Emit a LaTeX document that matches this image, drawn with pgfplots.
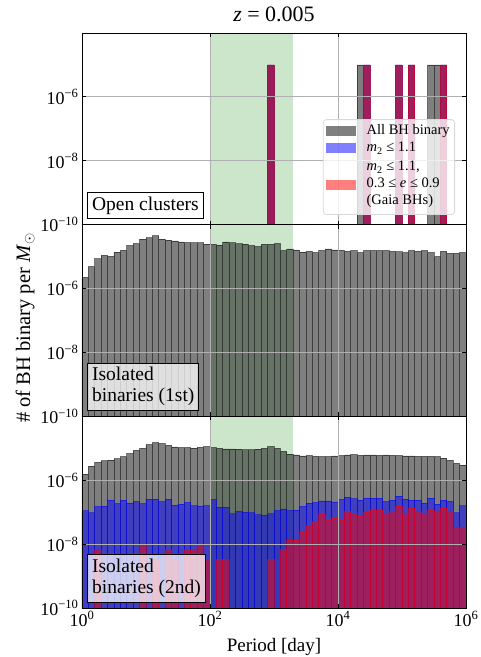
\documentclass[border=0pt]{standalone}
\usepackage{fontspec}
\setmainfont{Liberation Serif}
\usepackage{pgfplots}
\usepackage{pgfplotstable}
\pgfplotsset{compat=1.18}

\pgfplotstableread{
x g b r
1 1e-20 1e-20 1e-20
1.2589 1e-20 1e-20 1e-20
1.5849 1e-20 1e-20 1e-20
1.9953 1e-20 1e-20 1e-20
2.5119 1e-20 1e-20 1e-20
3.1623 1e-20 1e-20 1e-20
3.9811 1e-20 1e-20 1e-20
5.0119 1e-20 1e-20 1e-20
6.3096 1e-20 1e-20 1e-20
7.9433 1e-20 1e-20 1e-20
10 1e-20 1e-20 1e-20
12.589 1e-20 1e-20 1e-20
15.849 1e-20 1e-20 1e-20
19.953 1e-20 1e-20 1e-20
25.119 1e-20 1e-20 1e-20
31.623 1e-20 1e-20 1e-20
39.811 1e-20 1e-20 1e-20
50.119 1e-20 1e-20 1e-20
63.096 1e-20 1e-20 1e-20
79.433 1e-20 1e-20 1e-20
100 1e-20 1e-20 1e-20
125.89 1e-20 1e-20 1e-20
158.49 1e-20 1e-20 1e-20
199.53 1e-20 1e-20 1e-20
251.19 1e-20 1e-20 1e-20
316.23 1e-20 1e-20 1e-20
398.11 1e-20 1e-20 1e-20
501.19 1e-20 1e-20 1e-20
630.96 1e-20 1e-20 1e-20
794.33 1e-5 1e-5 1e-5
1000 1e-20 1e-20 1e-20
1258.9 1e-20 1e-20 1e-20
1584.9 1e-20 1e-20 1e-20
1995.3 1e-20 1e-20 1e-20
2511.9 1e-20 1e-20 1e-20
3162.3 1e-20 1e-20 1e-20
3981.1 1e-20 1e-20 1e-20
5011.9 1e-20 1e-20 1e-20
6309.6 1e-20 1e-20 1e-20
7943.3 1e-20 1e-20 1e-20
10000 1e-20 1e-20 1e-20
12589 1e-20 1e-20 1e-20
15849 1e-20 1e-20 1e-20
19953 1e-5 1e-20 1e-20
25119 1e-5 1e-5 1e-5
31623 1e-20 1e-20 1e-20
39811 1e-20 1e-20 1e-20
50119 1e-20 1e-20 1e-20
63096 1e-20 1e-20 1e-20
79433 1e-5 1e-5 1e-5
100000 1e-20 1e-20 1e-20
125890 1e-5 1e-5 1e-5
158490 1e-20 1e-20 1e-20
199530 1e-20 1e-20 1e-20
251190 1e-5 1e-20 1e-20
316230 1e-5 1e-20 1e-20
398110 1e-5 1e-5 1e-5
501190 1e-20 1e-20 1e-20
630960 1e-20 1e-20 1e-20
794330 1e-20 1e-20 1e-20
1000000 1e-20 1e-20 1e-20
}\toptab

\pgfplotstableread{
x g
1 2.24e-6
1.2589 4.9e-6
1.5849 8.5e-6
1.9953 1.10e-5
2.5119 1.02e-5
3.1623 1.38e-5
3.9811 1.58e-5
5.0119 2.19e-5
6.3096 2.57e-5
7.9433 3.55e-5
10 3.89e-5
12.589 4.47e-5
15.849 3.55e-5
19.953 3.31e-5
25.119 3.09e-5
31.623 2.88e-5
39.811 2.75e-5
50.119 2.69e-5
63.096 2.69e-5
79.433 2.45e-5
100 2.40e-5
125.89 2.29e-5
158.49 2.88e-5
199.53 2.69e-5
251.19 2.51e-5
316.23 2.45e-5
398.11 2.19e-5
501.19 2.04e-5
630.96 2.40e-5
794.33 2.40e-5
1000 2.57e-5
1258.9 1.55e-5
1584.9 1.74e-5
1995.3 1.62e-5
2511.9 1.38e-5
3162.3 1.45e-5
3981.1 1.33e-5
5011.9 1.55e-5
6309.6 1.74e-5
7943.3 1.62e-5
10000 1.58e-5
12589 1.45e-5
15849 1.55e-5
19953 1.33e-5
25119 1.55e-5
31623 1.55e-5
39811 1.55e-5
50119 1.55e-5
63096 1.45e-5
79433 1.41e-5
100000 1.33e-5
125890 1.55e-5
158490 1.45e-5
199530 1.55e-5
251190 1.33e-5
316230 1.00e-5
398110 1.45e-5
501190 1.26e-5
630960 1.26e-5
794330 1.33e-5
1000000 1e-20
}\midtab

\pgfplotstableread{
x g b r
1 1.55e-6 1.10e-7 1e-20
1.2589 2.75e-6 9.55e-8 1e-20
1.5849 3.63e-6 1.48e-7 6.6e-9
1.9953 4.07e-6 1.55e-7 1e-20
2.5119 4.27e-6 2.37e-7 1e-20
3.1623 4.68e-6 1.86e-7 1e-20
3.9811 5.50e-6 2.37e-7 1e-20
5.0119 6.76e-6 1.95e-7 1e-20
6.3096 8.6e-6 2.19e-7 1e-20
7.9433 1.0e-5 1.86e-7 1.0e-8
10 1.29e-5 2.57e-7 1e-20
12.589 1.51e-5 2.57e-7 3.3e-9
15.849 1.41e-5 2.14e-7 1e-20
19.953 1.23e-5 2.57e-7 6.6e-9
25.119 1.10e-5 1.66e-7 3.3e-9
31.623 1.05e-5 1.78e-7 1e-20
39.811 1.05e-5 2.0e-7 6.6e-9
50.119 1.02e-5 1.58e-7 6.6e-9
63.096 1.07e-5 1.55e-7 1.0e-8
79.433 1.12e-5 1.58e-7 3.3e-9
100 1.05e-5 2.51e-7 1e-20
125.89 1.0e-5 1.45e-7 3.3e-9
158.49 9.55e-6 1.45e-7 3.3e-9
199.53 9.55e-6 8.9e-8 1e-20
251.19 9.33e-6 1.05e-7 1e-20
316.23 8.91e-6 1.0e-7 1e-20
398.11 8.91e-6 9.55e-8 1e-20
501.19 9.33e-6 8.3e-8 1e-20
630.96 1.0e-5 8.1e-8 1e-20
794.33 1.12e-5 8.9e-8 3.3e-9
1000 1.0e-5 1.12e-7 1e-20
1258.9 7.94e-6 1.26e-7 6.6e-9
1584.9 6.61e-6 1.12e-7 1.33e-8
1995.3 6.17e-6 1.17e-7 1.33e-8
2511.9 5.75e-6 1.51e-7 2.37e-8
3162.3 5.89e-6 1.91e-7 3.8e-8
3981.1 5.62e-6 2.0e-7 5.0e-8
5011.9 5.50e-6 2.24e-7 8.7e-8
6309.6 5.50e-6 2.24e-7 5.6e-8
7943.3 5.75e-6 2.09e-7 6.5e-8
10000 5.89e-6 2.51e-7 5.6e-8
12589 6.17e-6 2.95e-7 1.07e-7
15849 6.31e-6 2.63e-7 9.1e-8
19953 6.03e-6 2.40e-7 7.5e-8
25119 6.17e-6 2.75e-7 1.0e-7
31623 6.17e-6 2.75e-7 1.15e-7
39811 6.03e-6 2.75e-7 1.15e-7
50119 6.17e-6 2.14e-7 8.9e-8
63096 6.03e-6 2.40e-7 1.07e-7
79433 5.89e-6 3.16e-7 1.55e-7
100000 5.75e-6 2.57e-7 8.9e-8
125890 5.75e-6 2.40e-7 1.33e-7
158490 5.62e-6 2.40e-7 1.07e-7
199530 5.62e-6 1.91e-7 8.9e-8
251190 5.62e-6 2.75e-7 1.15e-7
316230 5.50e-6 1.78e-7 1.02e-7
398110 4.90e-6 2.40e-7 1.33e-7
501190 4.17e-6 2.19e-7 1.07e-7
630960 3.39e-6 9.55e-8 3.4e-8
794330 2.95e-6 1.58e-7 3.4e-8
1000000 1e-20 1e-20 1e-20
}\bottab

\pgfplotsset{
 every axis/.append style={
  scale only axis, width=384pt, height=191.67pt,
  xmin=1, xmax=1e6, ymin=1e-10, ymax=1e-4,
  log origin y=infty,
  xtick={1,100,10000,1000000}, ytick={1e-10,1e-8,1e-6,1e-4},
  xminorticks=false, yminorticks=false,
  tick align=inside, major tick length=4pt,
  every tick/.style={black, line width=0.8pt},
  xmajorgrids, ymajorgrids,
  major grid style={line width=0.8pt, color=black!31},
  axis line style={line width=0.9pt},
  axis on top,
  tick label style={font=\fontsize{18}{20}\selectfont},
 },
 rectlegend/.style={legend image code/.code={\fill[##1, draw=none, sharp corners] (0pt,-5pt) rectangle (30pt,5pt);}},
}
\tikzset{
 lbox/.style={draw=black, fill=white, fill opacity=0.75, text opacity=1, line width=0.8pt,
   inner xsep=4.4pt, inner ysep=4.3pt, anchor=south west,
   font=\fontsize{19.5}{21}\selectfont, align=left, xshift=5.3pt, yshift=5.6pt},
}

\begin{document}
\begin{tikzpicture}
\path[use as bounding box] (-82pt,-49pt) rectangle (399pt,608pt);

% top panel
\begin{semilogyaxis}[xmode=log, at={(0pt,383.33pt)}, anchor=south west,
  xticklabels={{},{},{},{}},
  yticklabels={10\textsuperscript{−10},10\textsuperscript{−8},10\textsuperscript{−6},{}},
  title={\textit{z} = 0.005},
  title style={at={(0.5,1)}, anchor=base, yshift=5.7pt, font=\fontsize{22}{26}\selectfont},
]
\addplot[draw=none, fill=green!50!black, fill opacity=0.2, forget plot] coordinates {(100,1e-10) (2000,1e-10) (2000,1e-4) (100,1e-4)} -- cycle;
\addplot[ybar interval, fill=black, draw=black, opacity=0.5, line width=0.8pt] table[x=x,y=g]{\toptab};
\addplot[ybar interval, fill=blue, draw=blue, opacity=0.5, line width=0.8pt] table[x=x,y=b]{\toptab};
\addplot[ybar interval, fill=red, draw=red, opacity=0.5, line width=0.8pt] table[x=x,y=r]{\toptab};
\node[lbox] at (rel axis cs:0,0) {Open clusters};
\end{semilogyaxis}

% legend overlay for top panel
\begin{semilogyaxis}[xmode=log, at={(0pt,383.33pt)}, anchor=south west, hide axis,
  legend cell align=left,
  legend style={at={(1,0)}, anchor=south east, xshift=-11pt, yshift=9.7pt,
    fill=white, fill opacity=0.8, draw=black!15, draw opacity=1, text opacity=1, rounded corners=3pt,
    line width=0.8pt, inner xsep=3pt, inner ysep=2.5pt, row sep=1pt,
    nodes={inner sep=2pt, text depth=},
    font=\fontsize{14.5}{17}\selectfont,
    /tikz/every odd column/.append style={column sep=8.3pt}},
]
\addlegendimage{rectlegend, fill=black, opacity=0.5}
\addlegendentry{All BH binary}
\addlegendimage{rectlegend, fill=blue, opacity=0.5}
\addlegendentry{\textit{m}\textsubscript{2} ≤ 1.1}
\addlegendimage{rectlegend, fill=red, opacity=0.5}
\addlegendentry{\begin{tabular}{@{}l@{}}\textit{m}\textsubscript{2} ≤ 1.1,\\0.3 ≤ \textit{e} ≤ 0.9\\(Gaia BHs)\end{tabular}}
\end{semilogyaxis}

% middle panel
\begin{semilogyaxis}[xmode=log, at={(0pt,191.67pt)}, anchor=south west,
  xticklabels={{},{},{},{}},
  yticklabels={10\textsuperscript{−10},10\textsuperscript{−8},10\textsuperscript{−6},{}},
  ylabel={\# of BH binary per \textit{M}$_{\odot}$},
  ylabel style={at={(-0.148,0.461)}, anchor=center, font=\fontsize{20.5}{24}\selectfont},
]
\addplot[draw=none, fill=green!50!black, fill opacity=0.2, forget plot] coordinates {(100,1e-10) (2000,1e-10) (2000,1e-4) (100,1e-4)} -- cycle;
\addplot[ybar interval, fill=black, draw=black, opacity=0.5, line width=0.8pt] table[x=x,y=g]{\midtab};
\node[lbox] at (rel axis cs:0,0) {Isolated\\binaries (1st)};
\end{semilogyaxis}

% bottom panel
\begin{semilogyaxis}[xmode=log, at={(0pt,0pt)}, anchor=south west,
  xticklabels={10\textsuperscript{0},10\textsuperscript{2},10\textsuperscript{4},10\textsuperscript{6}},
  yticklabels={10\textsuperscript{−10},10\textsuperscript{−8},10\textsuperscript{−6},{}},
  xlabel={Period [day]},
  xlabel style={at={(0.5,0)}, anchor=base, yshift=-43pt, font=\fontsize{19}{22}\selectfont},
]
\addplot[draw=none, fill=green!50!black, fill opacity=0.2, forget plot] coordinates {(100,1e-10) (2000,1e-10) (2000,1e-4) (100,1e-4)} -- cycle;
\addplot[ybar interval, fill=black, draw=black, opacity=0.5, line width=0.8pt] table[x=x,y=g]{\bottab};
\addplot[ybar interval, fill=blue, draw=blue, opacity=0.5, line width=0.8pt] table[x=x,y=b]{\bottab};
\addplot[ybar interval, fill=red, draw=red, opacity=0.5, line width=0.8pt] table[x=x,y=r]{\bottab};
\node[lbox] at (rel axis cs:0,0) {Isolated\\binaries (2nd)};
\end{semilogyaxis}
\end{tikzpicture}
\end{document}
